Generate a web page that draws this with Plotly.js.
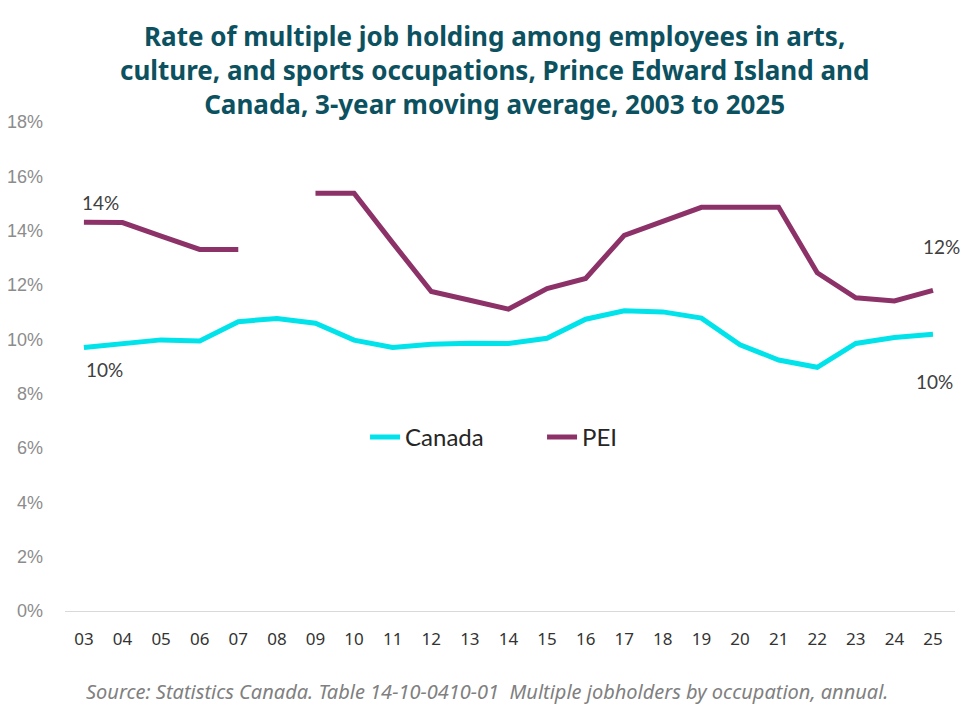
<!DOCTYPE html>
<html>
<head>
<meta charset="utf-8">
<script src="https://cdn.plot.ly/plotly-3.0.1.min.js"></script>
<style>
  html, body { margin: 0; padding: 0; background: #ffffff; }
  #chart { width: 967px; height: 716px; }
</style>
</head>
<body>
<div id="chart"></div>
<script>
// Two-digit year labels, 2003 to 2025
const years = ["03","04","05","06","07","08","09","10","11","12","13","14","15","16","17","18","19","20","21","22","23","24","25"];

// Rate of multiple job holding (%), 3-year moving average
const canada = [9.70, 9.82, 9.98, 9.94, 10.65, 10.77, 10.59, 9.97, 9.70, 9.82, 9.86, 9.85, 10.04, 10.74, 11.05, 11.01, 10.78, 9.80, 9.24, 8.97, 9.85, 10.07, 10.19];
const pei    = [14.31, 14.30, 13.80, 13.31, 13.31, null, 15.38, 15.38, 13.55, 11.76, 11.44, 11.11, 11.87, 12.24, 13.83, 14.35, 14.86, 14.86, 14.86, 12.45, 11.53, 11.41, 11.80];

const yTicks = [0, 2, 4, 6, 8, 10, 12, 14, 16, 18];
const yTickText = yTicks.map(v => v + "%");

const titleLines = [
  "Rate of multiple job holding among employees in arts,",
  "culture, and sports occupations, Prince Edward Island and",
  "Canada, 3-year moving average, 2003 to 2025"
];
const sourceNote = "Source: Statistics Canada. Table 14-10-0410-01  Multiple jobholders by occupation, annual.";

const lato = "Lato, Noto Sans, sans-serif";
const noto = "Noto Sans, Open Sans, sans-serif";
const labelFont = { family: lato, size: 19, color: "#404040" };

const traces = [
  {
    x: years, y: canada, name: "Canada", type: "scatter", mode: "lines",
    line: { color: "#00E3EA", width: 5 }
  },
  {
    x: years, y: pei, name: "PEI", type: "scatter", mode: "lines",
    line: { color: "#8C3268", width: 5 }, connectgaps: false
  }
];

// End-point value labels; category positions given as indices
const last = years.length - 1;
const pct = v => Math.round(v) + "%";
const annotations = [
  { x: 0, y: pei[0], text: pct(pei[0]), yanchor: "bottom", xshift: 17, yshift: 6 },
  { x: 0, y: canada[0], text: pct(canada[0]), yanchor: "top", xshift: 21, yshift: -9 },
  { x: last, y: pei[last], text: pct(pei[last]), yanchor: "bottom", xshift: 8, yshift: 30 },
  { x: last, y: canada[last], text: pct(canada[last]), yanchor: "top", xshift: 1, yshift: -34 }
].map(a => Object.assign({ xref: "x", yref: "y", xanchor: "center", showarrow: false, font: labelFont }, a));

// Chart title, three centred lines
annotations.push({
  xref: "paper", yref: "paper", x: 0.483, y: 1.1056, xanchor: "center", yanchor: "middle",
  showarrow: false, align: "center",
  text: "<b>" + titleLines.join("<br>") + "</b>",
  font: { family: noto, size: 26, color: "#0C5160" }
});

// Source note
annotations.push({
  xref: "paper", yref: "paper", x: 0.4736, y: -0.1656, xanchor: "center", yanchor: "middle",
  showarrow: false, text: "<i>" + sourceNote + "</i>",
  font: { family: noto, size: 20, color: "#808080" }
});

const layout = {
  width: 967, height: 716,
  paper_bgcolor: "#ffffff", plot_bgcolor: "#ffffff",
  margin: { l: 65, r: 12, t: 122, b: 105 },
  xaxis: {
    type: "category", range: [-0.49, 22.57],
    showgrid: false, zeroline: false, showline: false, ticks: "",
    tickfont: { family: noto, size: 17, color: "#333333" },
    ticklabelstandoff: 16, fixedrange: true
  },
  yaxis: {
    range: [0, 18], tickvals: yTicks, ticktext: yTickText,
    showgrid: false, zeroline: true, zerolinecolor: "#D9D9D9", zerolinewidth: 1,
    showline: false, ticks: "",
    tickfont: { family: "Liberation Sans, Arial, sans-serif", size: 18, color: "#8C8C8C" },
    ticklabelstandoff: 21, fixedrange: true
  },
  legend: {
    orientation: "h", x: 0.536, xanchor: "center", y: 0.355, yanchor: "middle",
    font: { family: lato, size: 24, color: "#262626" },
    entrywidth: 132, entrywidthmode: "pixels",
    traceorder: "normal", bgcolor: "rgba(0,0,0,0)"
  },
  annotations: annotations,
  showlegend: true
};

Plotly.newPlot("chart", traces, layout, { displayModeBar: false, staticPlot: true });
</script>
</body>
</html>
